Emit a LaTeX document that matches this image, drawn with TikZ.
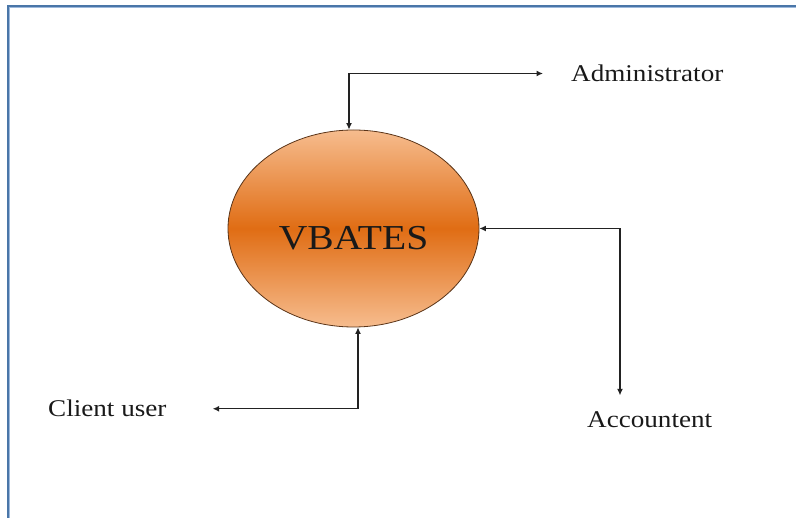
\documentclass[tikz,border=0pt]{standalone}
\usepackage{fontspec}
\setmainfont{Liberation Serif}
\newfontfamily\widefont[FakeStretch=1.13]{Liberation Serif}
\usetikzlibrary{shapes.geometric,arrows.meta}

\definecolor{framedark}{HTML}{4A76A8}
\definecolor{framelight}{HTML}{9DB9DC}
\definecolor{peach}{HTML}{F6BC8E}
\definecolor{burnt}{HTML}{E06D14}
\definecolor{rim}{HTML}{5A3418}
\definecolor{ink}{HTML}{222222}

\tikzset{
  sysbubble/.style={ellipse, draw=rim, line width=0.8pt, inner sep=0pt,
    minimum width=251pt, minimum height=197pt,
    top color=peach, bottom color=peach, middle color=burnt,
    font=\widefont\fontsize{35}{40}\selectfont, text=black!90},
  actor/.style={inner sep=0pt, font=\widefont\fontsize{24}{28}\selectfont, text=black!90},
  link/.style={draw=ink, line width=1.3pt,
    {Latex[length=6.5pt,width=6pt]}-{Latex[length=6.5pt,width=6pt]}},
}

\begin{document}
\begin{tikzpicture}[x=1pt, y=-1pt]
  \useasboundingbox (0,0) rectangle (796,518);

  % page frame: left and top edges
  \draw[framedark, line width=2.6pt] (8,518) -- (8,6) -- (796,6);
  \draw[framelight, line width=1pt] (9.8,518) -- (9.8,7.8) -- (796,7.8);

  % central system (label sits a little below the centre)
  \node[sysbubble] (v) at (353.5,228.5) {\raisebox{-21.5pt}[0pt][0pt]{VBATES}};

  % external actors
  \node[actor, anchor=base west] (adm) at (571,81.7) {Administrator};
  \node[actor, anchor=base west] (cli) at (48,417) {Client user};
  \node[actor, anchor=base west] (acc) at (587,428) {Accountent};

  % data flows
  \draw[link] ([xshift=-4.5pt]v.north) |- ([xshift=-28pt]adm.west);
  \draw[link] (v.east) -| ([xshift=33pt, yshift=16.6pt]acc.north west);
  \draw[link] ([xshift=4.5pt]v.south) |- ([xshift=46pt]cli.east);
\end{tikzpicture}
\end{document}
